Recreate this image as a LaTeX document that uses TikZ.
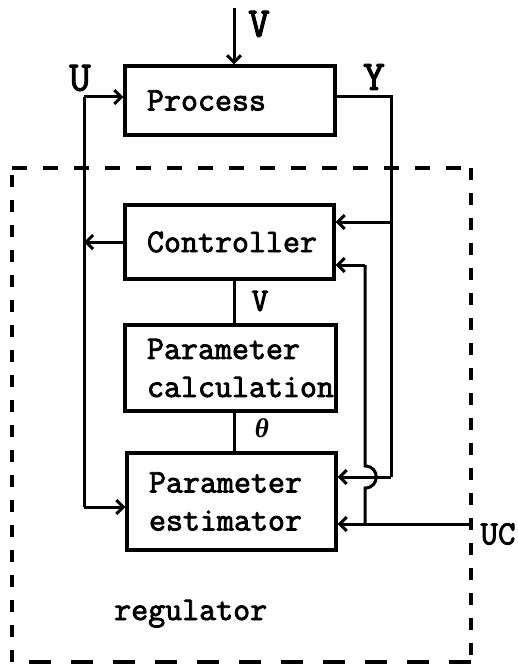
\documentclass[tikz,border=0pt]{standalone}
\usepackage{fontspec}
\newfontfamily\tw{Latin Modern Mono}[FakeBold=2.5]
\newfontfamily\grk{Liberation Serif}
\usetikzlibrary{arrows.meta}

\begin{document}
\begin{tikzpicture}[x=1pt,y=-1pt,
  blk/.style={draw, line width=3.2pt, inner xsep=22pt, inner ysep=0pt, align=left,
    font=\tw\fontsize{33}{38}\selectfont},
  wire/.style={line width=3pt},
  arr/.style={wire, -{Straight Barb[length=7pt,width=14pt]}},
  frame/.style={line width=3.2pt},
  biglbl/.style={inner sep=0pt, font=\tw\fontsize{42}{42}\selectfont},
  lbl/.style={inner sep=0pt, font=\tw\fontsize{33}{33}\selectfont}]
\useasboundingbox (0,0) rectangle (518,666);

% blocks
\node[blk, text width=166pt, minimum height=69pt] (proc) at (230,100.5) {Process};
\node[blk, text width=165pt, minimum height=74pt] (ctrl) at (229.5,242) {Controller};
\node[blk, text width=167pt, minimum height=86pt] (calc) at (230.5,368) {Parameter\\calculation};
\node[blk, text width=165pt, minimum height=97pt] (est) at (231.5,501.5) {Parameter\\estimator};

% signal names
\node[biglbl] (lU) at (80,78) {U};
\node[biglbl] (lY) at (374,77) {Y};
\node[biglbl] (lV) at (259,24) {V};
\node[lbl] (lV2) at (260,301) {V};
\node[inner sep=0pt, font=\grk\itshape\bfseries\fontsize{27}{27}\selectfont] (lth) at (262,428) {θ};
\node[inner sep=0pt, font=\tw\fontsize{34}{34}\selectfont] (lUC) at (498,534) {UC};
\node[lbl, anchor=base west] (reg) at (114,620) {regulator};

% disturbance input
\coordinate (vin) at (234,8);
\draw[arr] (vin) -- (vin |- proc.north);

% control signal U
\coordinate (uT) at (84,97);
\coordinate (uB) at (84,507);
\draw[arr] (uT) -- (uT -| proc.west);
\draw[wire] (uT) -- (uB);
\draw[arr] (uB) -- (uB -| est.west);
\draw[arr] (ctrl.west) -- (ctrl.west -| uT);

% output Y
\coordinate (yT) at (391,97);
\coordinate (yC) at (391,222);
\coordinate (yB) at (391,477);
\draw[wire] (yT -| proc.east) -- (yT) -- (yB);
\draw[arr] (yC) -- (yC -| ctrl.east);
\draw[arr] (yB) -- (yB -| est.east);

% command signal UC, hopping over the Y line
\coordinate (ucR) at (472,524);
\coordinate (ucJ) at (365,524);
\coordinate (ucT) at (365,265);
\draw[arr] (ucR) -- (ucR -| est.east);
\draw[wire] (ucJ) -- (365,488) .. controls (380,488) and (380,466) .. (365,466) -- (ucT);
\draw[arr] (ucT) -- (ucT -| ctrl.east);

% links between the regulator blocks
\coordinate (cv) at (234,0);
\draw[wire] (ctrl.south -| cv) -- (calc.north -| cv);
\draw[wire] (calc.south -| cv) -- (est.north -| cv);

% regulator boundary
\coordinate (fTL) at (12,168);
\coordinate (fTR) at (471,168);
\coordinate (fBR) at (471,662);
\coordinate (fBL) at (12,662);
\draw[frame, dash pattern=on 15pt off 16pt] (fTL) -- (fTR);
\draw[frame, dash pattern=on 12pt off 13pt] (fTR) -- (fBR);
\draw[frame, dash pattern=on 22pt off 20pt] (fBR) -- (fBL);
\draw[frame, dash pattern=on 12pt off 13pt] (fBL) -- (fTL);
\end{tikzpicture}
\end{document}
